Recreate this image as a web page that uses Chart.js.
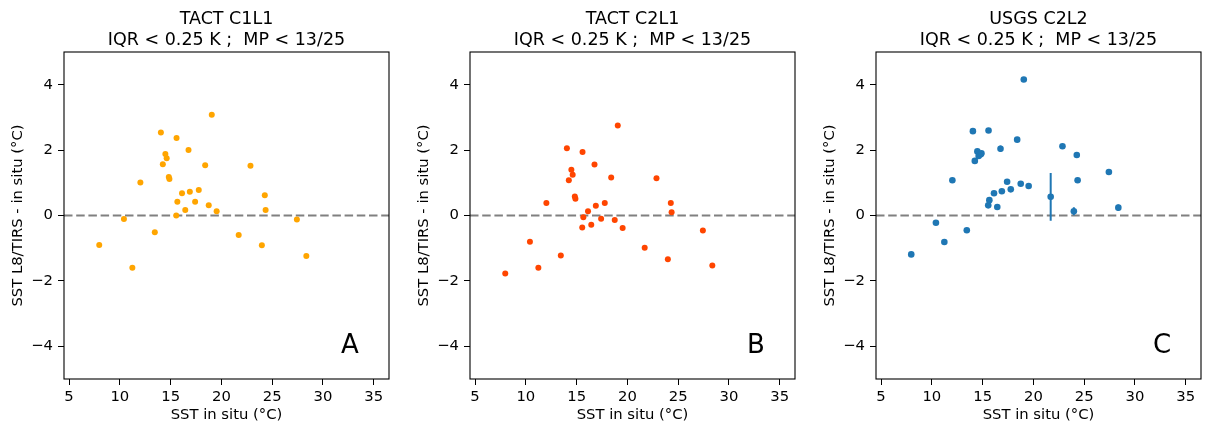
<!DOCTYPE html>
<html>
<head>
<meta charset="utf-8">
<script src="https://cdn.jsdelivr.net/npm/chart.js@4.4.1/dist/chart.umd.min.js"></script>
<style>
  body { margin: 0; background: #fff; width: 1206px; height: 426px; overflow: hidden; position: relative; }
  canvas { position: absolute; top: 0; }
</style>
</head>
<body>
<canvas id="panelA" width="400" height="426" style="left:0px"></canvas>
<canvas id="panelB" width="400" height="426" style="left:406px"></canvas>
<canvas id="panelC" width="394" height="426" style="left:812px"></canvas>
<script>
// SST in situ (°C), same stations for the 3 panels
const sstInSitu = [7.97, 10.4, 11.23, 12.02, 13.44, 14.04, 14.23, 14.48, 14.61, 14.82, 14.88,
  15.55, 15.58, 15.66, 16.12, 16.44, 16.76, 16.89, 17.41, 17.77, 18.4, 18.75, 19.05, 19.53,
  21.7, 22.86, 23.98, 24.27, 24.35, 27.43, 28.36];

// SST L8/TIRS - in situ
const diffC1L1 = [-0.9, -0.11, -1.6, 1.01, -0.51, 2.54, 1.57, 1.88, 1.75, 1.18, 1.12,
  0.0, 2.37, 0.42, 0.68, 0.17, 2.0, 0.73, 0.42, 0.78, 1.54, 0.31, 3.08, 0.13,
  -0.6, 1.52, -0.91, 0.62, 0.17, -0.12, -1.24];
const diffC2L1 = [-1.77, -0.8, -1.6, 0.38, -1.22, 2.06, 1.08, 1.40, 1.25, 0.58, 0.51,
  -0.37, 1.94, -0.05, 0.13, -0.28, 1.56, 0.30, -0.1, 0.38, 1.16, -0.14, 2.75, -0.38,
  -0.99, 1.14, -1.34, 0.38, 0.1, -0.46, -1.53];
const diffUSGS = [-1.19, -0.22, -0.81, 1.08, -0.45, 2.58, 1.67, 1.96, 1.82, 1.87, 1.9,
  0.31, 2.6, 0.47, 0.68, 0.26, 2.04, 0.74, 1.03, 0.80, 2.32, 0.97, 4.16, 0.90,
  0.57, 2.12, 0.13, 1.85, 1.08, 1.33, 0.24];
// barres d'erreur (USGS seulement)
const errUSGS = [0, 0, 0, 0, 0, 0, 0, 0, 0, 0, 0,
  0, 0, 0, 0, 0, 0.1, 0, 0, 0, 0, 0, 0, 0,
  0.73, 0, 0.12, 0, 0, 0, 0.1];

const xTicks = [5, 10, 15, 20, 25, 30, 35];
const yTicks = [-4, -2, 0, 2, 4];
const xMin = 4.5, xMax = 36.5, yMin = -5, yMax = 5;

const titles = [
  ["TACT C1L1", "IQR < 0.25 K ;  MP < 13/25"],
  ["TACT C2L1", "IQR < 0.25 K ;  MP < 13/25"],
  ["USGS C2L2", "IQR < 0.25 K ;  MP < 13/25"]
];
const letters = ["A", "B", "C"];

const font = '"DejaVu Sans", sans-serif';

// cadre + titre + lettre du panneau
const framePlugin = {
  id: 'frame',
  afterDraw(chart, args, opts) {
    const ctx = chart.ctx;
    const a = chart.chartArea;
    ctx.save();
    ctx.strokeStyle = '#000';
    ctx.lineWidth = 1.1;
    ctx.strokeRect(a.left, a.top, a.right - a.left, a.bottom - a.top);
    ctx.fillStyle = '#000';
    ctx.textAlign = 'center';
    ctx.textBaseline = 'alphabetic';
    ctx.font = '17.5px ' + font;
    let cx = (a.left + a.right) / 2;
    ctx.fillText(opts.title[0], cx, 24.3);
    ctx.fillText(opts.title[1], cx, 44.5);
    ctx.font = '26px ' + font;
    ctx.fillText(opts.letter, a.right - 39, a.bottom - 26);
    ctx.restore();
  }
};

function makePanel(id, yVals, color, title, letter, radius, errs, padRight) {
  let pts = [];
  for (let i = 0; i < sstInSitu.length; i++) {
    pts.push({ x: sstInSitu[i], y: yVals[i] });
  }
  let datasets = [{
    data: pts,
    backgroundColor: color,
    borderWidth: 0,
    pointRadius: radius,
    pointHoverRadius: radius
  }];
  if (errs) {
    let bars = [];
    for (let i = 0; i < sstInSitu.length; i++) {
      if (errs[i] > 0) {
        bars.push({ x: sstInSitu[i], y: yVals[i] - errs[i] });
        bars.push({ x: sstInSitu[i], y: yVals[i] + errs[i] });
        bars.push({ x: sstInSitu[i], y: null });
      }
    }
    datasets.push({
      data: bars,
      showLine: true,
      spanGaps: false,
      borderColor: color,
      borderWidth: 2,
      pointRadius: 0
    });
  }
  // ligne zéro en pointillés
  datasets.push({
    data: [{ x: xMin, y: 0 }, { x: xMax, y: 0 }],
    showLine: true,
    borderColor: '#808080',
    borderWidth: 2,
    borderDash: [8.5, 3.7],
    pointRadius: 0
  });

  new Chart(document.getElementById(id), {
    type: 'scatter',
    data: { datasets: datasets },
    options: {
      responsive: false,
      animation: false,
      devicePixelRatio: 1,
      layout: { padding: { top: 52, right: padRight, left: 0, bottom: 0 } },
      plugins: {
        legend: { display: false },
        tooltip: { enabled: false },
        frame: { title: title, letter: letter }
      },
      scales: {
        x: {
          min: xMin, max: xMax,
          afterBuildTicks: s => { s.ticks = xTicks.map(v => ({ value: v })); },
          afterFit: s => { s.height = 47; },
          border: { display: false },
          grid: { drawOnChartArea: false, tickLength: 6, color: '#000', tickWidth: 1 },
          ticks: { color: '#000', font: { family: font, size: 14.8 }, padding: 3, maxRotation: 0 },
          title: { display: true, text: 'SST in situ (°C)', color: '#000', font: { family: font, size: 14.8 }, padding: { bottom: 2 } }
        },
        y: {
          min: yMin, max: yMax,
          afterBuildTicks: s => { s.ticks = yTicks.map(v => ({ value: v })); },
          afterFit: s => { s.width = 64; },
          border: { display: false },
          grid: { drawOnChartArea: false, tickLength: 6, color: '#000', tickWidth: 1 },
          ticks: {
            color: '#000', font: { family: font, size: 14.8 }, padding: 5,
            callback: v => String(v).replace('-', '\u2212')
          },
          title: { display: true, text: 'SST L8/TIRS - in situ (°C)', color: '#000', font: { family: font, size: 14.8 }, padding: { top: 9 } }
        }
      }
    },
    plugins: [framePlugin]
  });
}

makePanel('panelA', diffC1L1, '#FFA500', titles[0], letters[0], 3, null, 11);
makePanel('panelB', diffC2L1, '#FF4500', titles[1], letters[1], 3, null, 11);
makePanel('panelC', diffUSGS, '#1F77B4', titles[2], letters[2], 3.3, errUSGS, 5);
</script>
</body>
</html>
